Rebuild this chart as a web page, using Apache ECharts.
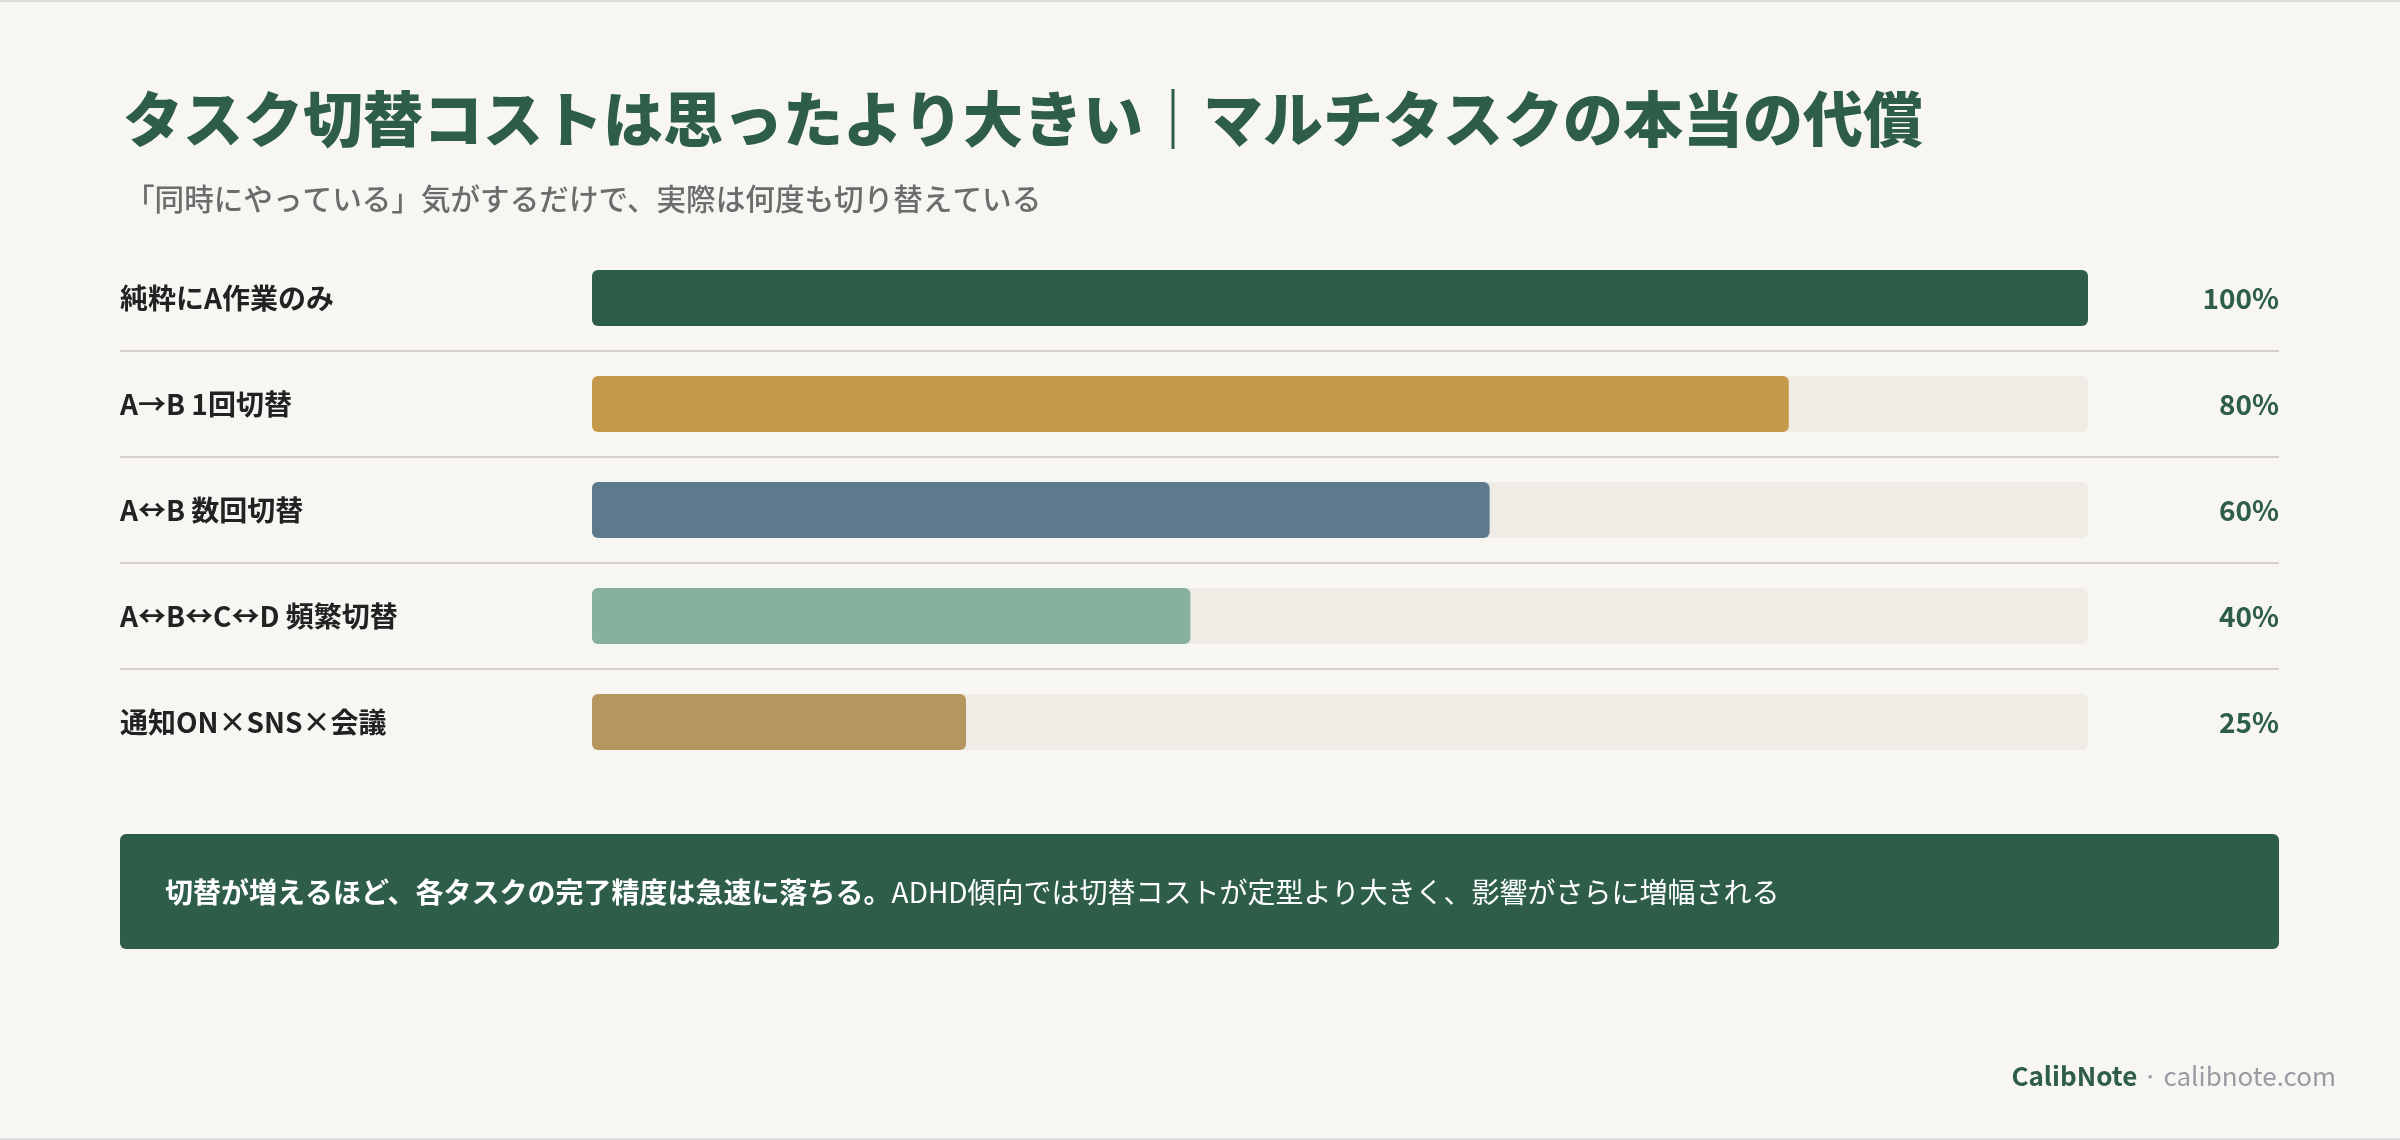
<!DOCTYPE html>
<html>
<head>
<meta charset="utf-8">
<script src="https://cdn.jsdelivr.net/npm/echarts@6/dist/echarts.min.js"></script>
<style>
html,body{margin:0;padding:0;background:#f7f6f2;}
#chart{width:2400px;height:1140px;}
</style>
</head>
<body>
<div id="chart"></div>
<script>
const titleText = 'タスク切替コストは思ったより大きい｜マルチタスクの本当の代償';
const subtitleText = '「同時にやっている」気がするだけで、実際は何度も切り替えている';
const categories = ['純粋にA作業のみ', 'A→B 1回切替', 'A↔B 数回切替', 'A↔B↔C↔D 頻繁切替', '通知ON×SNS×会議'];
const values = [100, 80, 60, 40, 25];
const barColors = ['#2e5e4a', '#c49a4a', '#5c7a8c', '#88b09e', '#b5965f'];
const valueLabels = values.map(v => v + '%');
const noteBold = '切替が増えるほど、各タスクの完了精度は急速に落ちる。';
const noteRegular = 'ADHD傾向では切替コストが定型より大きく、影響がさらに増幅される';
const brand = 'CalibNote';
const site = 'calibnote.com';

const FONT = '"Noto Sans CJK JP", "Noto Sans", sans-serif';
const GREEN = '#2e5e4a';

const chart = echarts.init(document.getElementById('chart'), null, {renderer: 'canvas'});

chart.setOption({
  backgroundColor: '#f7f6f2',
  animation: false,
  textStyle: {fontFamily: FONT},
  title: [
    {
      text: titleText, left: 118, top: 84,
      textStyle: {fontFamily: FONT, fontSize: 60, fontWeight: 900, color: GREEN}
    },
    {
      text: subtitleText, left: 120, top: 179,
      textStyle: {fontFamily: FONT, fontSize: 29.6, fontWeight: 500, color: '#6c6c6c'}
    }
  ],
  grid: {left: 592, right: 312, top: 245, height: 530, containLabel: false},
  xAxis: {type: 'value', min: 0, max: 100, show: false},
  yAxis: [
    {
      type: 'category', inverse: true, data: categories,
      axisLine: {show: false}, axisTick: {show: false}, splitLine: {show: false},
      axisLabel: {align: 'left', margin: 472, fontFamily: FONT, fontSize: 28, fontWeight: 'bold', color: '#222222'}
    },
    {
      type: 'category', inverse: true, position: 'right', data: valueLabels,
      axisLine: {show: false}, axisTick: {show: false}, splitLine: {show: false},
      axisLabel: {align: 'right', margin: 191, fontFamily: FONT, fontSize: 28, fontWeight: 'bold', color: GREEN}
    }
  ],
  series: [{
    type: 'bar',
    yAxisIndex: 0,
    barWidth: 56,
    showBackground: true,
    backgroundStyle: {color: '#efece5', borderRadius: 6},
    data: values.map((v, i) => ({value: v, itemStyle: {color: barColors[i], borderRadius: 6}}))
  }]
});

// separators between rows, positioned from the category axis
const graphics = [];
for (let i = 0; i < categories.length - 1; i++) {
  const y1 = chart.convertToPixel({yAxisIndex: 0}, categories[i]);
  const y2 = chart.convertToPixel({yAxisIndex: 0}, categories[i + 1]);
  const y = Math.round((y1 + y2) / 2);
  graphics.push({
    type: 'rect', shape: {x: 120, y: y - 1, width: 2159, height: 2},
    style: {fill: '#d6d0c6'}, silent: true
  });
}
// note box
graphics.push({
  type: 'rect', shape: {x: 120, y: 834, width: 2159, height: 115, r: 6},
  style: {fill: GREEN}, silent: true
});
graphics.push({
  type: 'text', x: 165, y: 892,
  style: {
    text: '{b|' + noteBold + '}{r|' + noteRegular + '}',
    verticalAlign: 'middle', align: 'left',
    rich: {
      b: {fontFamily: FONT, fontSize: 28, fontWeight: 'bold', fill: '#ffffff'},
      r: {fontFamily: FONT, fontSize: 28, fontWeight: 'normal', fill: '#ffffff'}
    }
  }, silent: true
});
// footer
graphics.push({
  type: 'text', x: 2336, y: 1076,
  style: {
    text: '{b|' + brand + '}{d| · }{s|' + site + '}',
    verticalAlign: 'middle', align: 'right',
    rich: {
      b: {fontFamily: FONT, fontSize: 26, fontWeight: 'bold', fill: GREEN},
      d: {fontFamily: FONT, fontSize: 26, fill: '#9aa0a6'},
      s: {fontFamily: FONT, fontSize: 26, fill: '#979ca3'}
    }
  }, silent: true
});
// frame lines
graphics.push({type: 'rect', shape: {x: 0, y: 0, width: 2400, height: 2}, style: {fill: '#dcdcdc'}, silent: true});
graphics.push({type: 'rect', shape: {x: 0, y: 1138, width: 2400, height: 2}, style: {fill: '#dcdcdc'}, silent: true});

chart.setOption({graphic: graphics});
</script>
</body>
</html>
